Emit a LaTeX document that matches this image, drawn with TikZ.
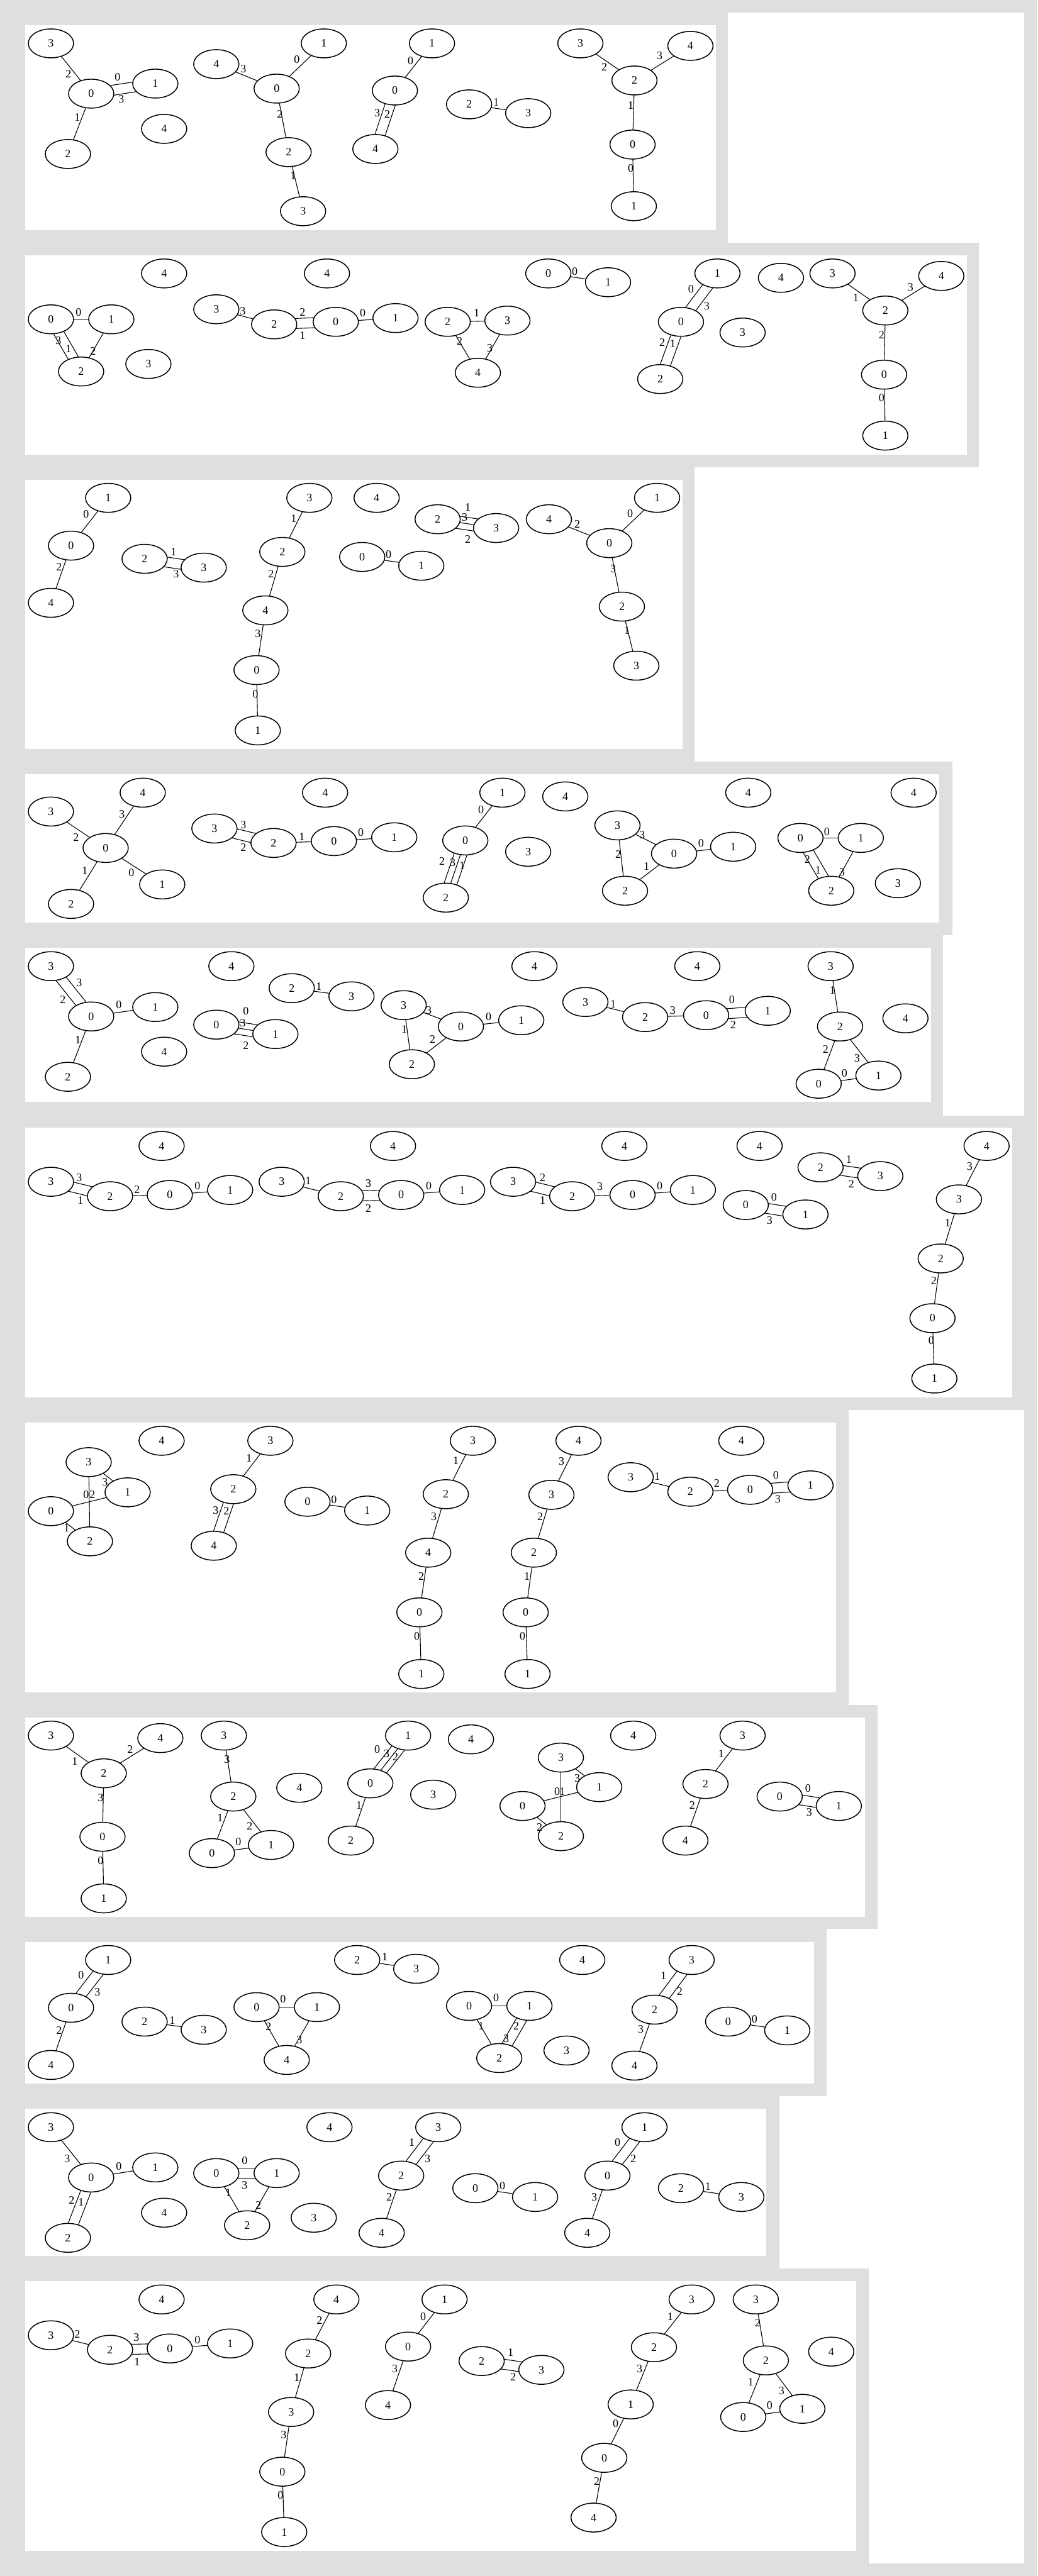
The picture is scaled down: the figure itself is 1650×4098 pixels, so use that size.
\documentclass[tikz,border=0pt]{standalone}
\usepackage{fontspec}
\setmainfont{Liberation Serif}
\usetikzlibrary{shapes.geometric,calc}
\pgfdeclarelayer{bgl}\pgfdeclarelayer{edges}
\pgfsetlayers{bgl,edges,main}
\definecolor{pagegray}{RGB}{223,223,223}
\tikzset{
 gn/.style={ellipse, draw=black, fill=white, line width=1.5pt, minimum width=72pt, minimum height=46pt, inner sep=0pt, font=\fontsize{18}{20}\selectfont},
 ge/.style={draw=black, line width=1.1pt},
 lab/.style={inner sep=0pt, font=\fontsize{18}{20}\selectfont},
 graybox/.style={fill=pagegray},
 whitebox/.style={fill=white},
}
\newcounter{labcount}
\newcommand\gN[4]{\node[gn] (#1) at (#2,#3) {#4};}
\newcommand\gL[3]{\stepcounter{labcount}\node[lab] (lab\arabic{labcount}) at (#1,#2) {#3};}
\newcommand\gE[2]{\begin{pgfonlayer}{edges}\draw[ge] (#1.center) -- (#2.center);\end{pgfonlayer}}
\newcommand\gEE[2]{\begin{pgfonlayer}{edges}\draw[ge] ($(#1.center)!8pt!90:(#2.center)$) -- ($(#2.center)!8pt!-90:(#1.center)$);\draw[ge] ($(#1.center)!8pt!-90:(#2.center)$) -- ($(#2.center)!8pt!90:(#1.center)$);\end{pgfonlayer}}
\newcommand\gEEE[2]{\begin{pgfonlayer}{edges}\draw[ge] ($(#1.center)!10pt!90:(#2.center)$) -- ($(#2.center)!10pt!-90:(#1.center)$);\draw[ge] ($(#1.center)!10pt!-90:(#2.center)$) -- ($(#2.center)!10pt!90:(#1.center)$);\draw[ge] (#1.center) -- (#2.center);\end{pgfonlayer}}
\begin{document}
\begin{tikzpicture}[x=1pt,y=-1pt]
\useasboundingbox (0,0) rectangle (1650,4098);
\begin{pgfonlayer}{bgl}
\fill[graybox] (0,0) rectangle (1650,4098);
\fill[whitebox] (1100,20) rectangle (1629,4078);
\fill[graybox] (0,0) rectangle (1158,386);
\fill[graybox] (0,386) rectangle (1557,743);
\fill[graybox] (0,743) rectangle (1105,1212);
\fill[graybox] (0,1212) rectangle (1515,1488);
\fill[graybox] (0,1488) rectangle (1500,1775);
\fill[graybox] (0,1775) rectangle (1650,2243);
\fill[graybox] (0,2243) rectangle (1350,2712);
\fill[graybox] (0,2712) rectangle (1396,3068);
\fill[graybox] (0,3068) rectangle (1315,3335);
\fill[graybox] (0,3335) rectangle (1240,3609);
\fill[graybox] (0,3609) rectangle (1382,4098);
\fill[whitebox] (40,40) rectangle (1139,366);
\fill[whitebox] (40,406) rectangle (1538,723);
\fill[whitebox] (40,763) rectangle (1086,1192);
\fill[whitebox] (40,1232) rectangle (1494,1468);
\fill[whitebox] (40,1508) rectangle (1481,1753);
\fill[whitebox] (40,1794) rectangle (1610,2223);
\fill[whitebox] (40,2263) rectangle (1330,2692);
\fill[whitebox] (40,2732) rectangle (1376,3049);
\fill[whitebox] (40,3089) rectangle (1295,3315);
\fill[whitebox] (40,3355) rectangle (1219,3589);
\fill[whitebox] (40,3629) rectangle (1362,4058);
\end{pgfonlayer}
% ---------- Row 1
\gN{r1a3}{81}{69}{3}\gN{r1a0}{145}{149}{0}\gN{r1a1}{247}{133}{1}\gN{r1a4}{261}{205}{4}\gN{r1a2}{108}{245}{2}
\gE{r1a3}{r1a0}\gEE{r1a0}{r1a1}\gE{r1a0}{r1a2}
\gL{109}{118}{2}\gL{187}{123}{0}\gL{193}{158}{3}\gL{123}{187}{1}
\gN{r1b4}{344}{102}{4}\gN{r1b1}{515}{69}{1}\gN{r1b0}{440}{141}{0}\gN{r1b2}{459}{242}{2}\gN{r1b3}{482}{336}{3}
\gE{r1b4}{r1b0}\gE{r1b0}{r1b1}\gE{r1b0}{r1b2}\gE{r1b2}{r1b3}
\gL{387}{110}{3}\gL{472}{95}{0}\gL{445}{182}{2}\gL{466}{280}{1}
\gN{r1c1}{687}{69}{1}\gN{r1c0}{628}{144}{0}\gN{r1c4}{597}{237}{4}
\gE{r1c0}{r1c1}\gEE{r1c0}{r1c4}
\gL{653}{97}{0}\gL{600}{180}{3}\gL{616}{182}{2}
\gN{r1d2}{746}{166}{2}\gN{r1d3}{840}{180}{3}
\gE{r1d2}{r1d3}\gL{789}{163}{1}
\gN{r1e3}{923}{69}{3}\gN{r1e4}{1098}{73}{4}\gN{r1e2}{1009}{128}{2}\gN{r1e0}{1006}{230}{0}\gN{r1e1}{1008}{328}{1}
\gE{r1e3}{r1e2}\gE{r1e2}{r1e4}\gE{r1e2}{r1e0}\gE{r1e0}{r1e1}
\gL{961}{107}{2}\gL{1049}{89}{3}\gL{1003}{168}{1}\gL{1003}{268}{0}
% ---------- Row 2
\gN{r2a4}{261}{435}{4}\gN{r2a0}{81}{508}{0}\gN{r2a1}{177}{508}{1}\gN{r2a2}{129}{591}{2}\gN{r2a3}{236}{579}{3}
\gE{r2a0}{r2a1}\gEE{r2a0}{r2a2}\gE{r2a1}{r2a2}
\gL{125}{497}{0}\gL{93}{542}{3}\gL{109}{555}{1}\gL{148}{559}{2}
\gN{r2b4}{520}{435}{4}\gN{r2b3}{344}{492}{3}\gN{r2b2}{436}{516}{2}\gN{r2b0}{534}{512}{0}\gN{r2b1}{629}{506}{1}
\gE{r2b3}{r2b2}\gEE{r2b2}{r2b0}\gE{r2b0}{r2b1}
\gL{386}{495}{3}\gL{481}{497}{2}\gL{481}{534}{1}\gL{577}{498}{0}
\gN{r2c0}{872}{435}{0}\gN{r2c1}{967}{449}{1}\gN{r2c2}{712}{512}{2}\gN{r2c3}{807}{510}{3}\gN{r2c4}{760}{593}{4}
\gE{r2c0}{r2c1}\gE{r2c2}{r2c3}\gE{r2c2}{r2c4}\gE{r2c3}{r2c4}
\gL{914}{432}{0}\gL{758}{498}{1}\gL{731}{543}{2}\gL{779}{554}{3}
\gN{r2d1}{1141}{435}{1}\gN{r2d4}{1242}{442}{4}\gN{r2d0}{1083}{512}{0}\gN{r2d3}{1181}{529}{3}\gN{r2d2}{1050}{603}{2}
\gEE{r2d0}{r2d1}\gEE{r2d0}{r2d2}
\gL{1099}{460}{0}\gL{1124}{487}{3}\gL{1053}{545}{2}\gL{1070}{547}{1}
\gN{r2e3}{1324}{435}{3}\gN{r2e4}{1497}{439}{4}\gN{r2e2}{1408}{494}{2}\gN{r2e0}{1406}{596}{0}\gN{r2e1}{1408}{693}{1}
\gE{r2e3}{r2e2}\gE{r2e2}{r2e4}\gE{r2e2}{r2e0}\gE{r2e0}{r2e1}
\gL{1361}{474}{1}\gL{1448}{457}{3}\gL{1402}{533}{2}\gL{1402}{633}{0}
% ---------- Row 3
\gN{r3a1}{172}{792}{1}\gN{r3a0}{113}{868}{0}\gN{r3a4}{81}{959}{4}
\gE{r3a0}{r3a1}\gE{r3a0}{r3a4}
\gL{137}{818}{0}\gL{94}{902}{2}
\gN{r3b2}{230}{889}{2}\gN{r3b3}{324}{903}{3}
\gEE{r3b2}{r3b3}\gL{276}{878}{1}\gL{280}{913}{3}
\gN{r3c3}{492}{792}{3}\gN{r3c2}{449}{878}{2}\gN{r3c4}{422}{971}{4}\gN{r3c0}{408}{1066}{0}\gN{r3c1}{410}{1162}{1}
\gE{r3c3}{r3c2}\gE{r3c2}{r3c4}\gE{r3c4}{r3c0}\gE{r3c0}{r3c1}
\gL{467}{825}{1}\gL{431}{913}{2}\gL{410}{1008}{3}\gL{406}{1104}{0}
\gN{r3d4}{599}{792}{4}\gN{r3d0}{576}{886}{0}\gN{r3d1}{670}{900}{1}\gN{r3d2}{696}{826}{2}\gN{r3d3}{789}{840}{3}
\gE{r3d0}{r3d1}\gEEE{r3d2}{r3d3}
\gL{618}{882}{0}\gL{744}{807}{1}\gL{739}{823}{3}\gL{744}{858}{2}
\gN{r3e4}{873}{826}{4}\gN{r3e1}{1045}{792}{1}\gN{r3e0}{969}{864}{0}\gN{r3e2}{989}{965}{2}\gN{r3e3}{1012}{1059}{3}
\gE{r3e4}{r3e0}\gE{r3e0}{r3e1}\gE{r3e0}{r3e2}\gE{r3e2}{r3e3}
\gL{918}{834}{2}\gL{1002}{817}{0}\gL{975}{905}{3}\gL{997}{1003}{1}
% ---------- Row 4
\gN{r4a4}{227}{1261}{4}\gN{r4a3}{81}{1291}{3}\gN{r4a0}{168}{1349}{0}\gN{r4a1}{258}{1407}{1}\gN{r4a2}{113}{1438}{2}
\gE{r4a3}{r4a0}\gE{r4a0}{r4a4}\gE{r4a0}{r4a2}\gE{r4a0}{r4a1}
\gL{121}{1332}{2}\gL{194}{1295}{3}\gL{135}{1385}{1}\gL{209}{1388}{0}
\gN{r4b4}{517}{1261}{4}\gN{r4b3}{341}{1318}{3}\gN{r4b2}{435}{1341}{2}\gN{r4b0}{531}{1338}{0}\gN{r4b1}{627}{1332}{1}
\gEE{r4b3}{r4b2}\gE{r4b2}{r4b0}\gE{r4b0}{r4b1}
\gL{387}{1312}{3}\gL{387}{1348}{2}\gL{480}{1331}{1}\gL{574}{1324}{0}
\gN{r4c1}{799}{1261}{1}\gN{r4c4}{899}{1267}{4}\gN{r4c0}{740}{1337}{0}\gN{r4c3}{840}{1355}{3}\gN{r4c2}{709}{1428}{2}
\gE{r4c0}{r4c1}\gEEE{r4c0}{r4c2}
\gL{765}{1288}{0}\gL{703}{1370}{2}\gL{720}{1372}{3}\gL{735}{1377}{1}
\gN{r4d4}{1190}{1261}{4}\gN{r4d3}{982}{1313}{3}\gN{r4d0}{1072}{1358}{0}\gN{r4d1}{1166}{1347}{1}\gN{r4d2}{994}{1417}{2}
\gE{r4d3}{r4d0}\gE{r4d0}{r4d1}\gE{r4d3}{r4d2}\gE{r4d0}{r4d2}
\gL{1021}{1328}{3}\gL{1115}{1341}{0}\gL{983}{1359}{2}\gL{1028}{1378}{1}
\gN{r4e4}{1453}{1261}{4}\gN{r4e0}{1273}{1333}{0}\gN{r4e1}{1369}{1333}{1}\gN{r4e2}{1322}{1417}{2}\gN{r4e3}{1428}{1405}{3}
\gE{r4e0}{r4e1}\gEE{r4e0}{r4e2}\gE{r4e1}{r4e2}
\gL{1315}{1323}{0}\gL{1284}{1367}{2}\gL{1301}{1384}{1}\gL{1339}{1387}{3}
% ---------- Row 5
\gN{r5a3}{81}{1537}{3}\gN{r5a0}{145}{1617}{0}\gN{r5a1}{247}{1602}{1}\gN{r5a4}{261}{1673}{4}\gN{r5a2}{108}{1713}{2}
\gEE{r5a3}{r5a0}\gE{r5a0}{r5a1}\gE{r5a0}{r5a2}
\gL{126}{1563}{3}\gL{100}{1590}{2}\gL{189}{1598}{0}\gL{124}{1654}{1}
\gN{r5b4}{368}{1537}{4}\gN{r5b2}{464}{1572}{2}\gN{r5b3}{559}{1585}{3}\gN{r5b0}{344}{1630}{0}\gN{r5b1}{438}{1645}{1}
\gE{r5b2}{r5b3}\gEEE{r5b0}{r5b1}
\gL{507}{1569}{1}\gL{391}{1608}{0}\gL{386}{1627}{3}\gL{391}{1663}{2}
\gN{r5c4}{850}{1537}{4}\gN{r5c3}{642}{1599}{3}\gN{r5c0}{733}{1633}{0}\gN{r5c1}{829}{1623}{1}\gN{r5c2}{655}{1693}{2}
\gE{r5c3}{r5c0}\gE{r5c0}{r5c1}\gE{r5c3}{r5c2}\gE{r5c0}{r5c2}
\gL{682}{1607}{3}\gL{777}{1617}{0}\gL{643}{1637}{1}\gL{688}{1653}{2}
\gN{r5d4}{1109}{1537}{4}\gN{r5d3}{931}{1594}{3}\gN{r5d2}{1026}{1618}{2}\gN{r5d0}{1123}{1615}{0}\gN{r5d1}{1221}{1608}{1}
\gE{r5d3}{r5d2}\gE{r5d2}{r5d0}\gEE{r5d0}{r5d1}
\gL{975}{1597}{1}\gL{1070}{1607}{3}\gL{1164}{1590}{0}\gL{1166}{1630}{2}
\gN{r5e3}{1321}{1537}{3}\gN{r5e4}{1440}{1620}{4}\gN{r5e2}{1336}{1633}{2}\gN{r5e1}{1397}{1711}{1}\gN{r5e0}{1302}{1724}{0}
\gE{r5e3}{r5e2}\gE{r5e2}{r5e0}\gE{r5e2}{r5e1}\gE{r5e0}{r5e1}
\gL{1324}{1575}{1}\gL{1313}{1669}{2}\gL{1363}{1683}{3}\gL{1343}{1707}{0}
% ---------- Row 6
\gN{r6a4}{257}{1823}{4}\gN{r6a3}{81}{1880}{3}\gN{r6a2}{175}{1903}{2}\gN{r6a0}{270}{1901}{0}\gN{r6a1}{366}{1893}{1}
\gEE{r6a3}{r6a2}\gE{r6a2}{r6a0}\gE{r6a0}{r6a1}
\gL{126}{1874}{3}\gL{128}{1909}{1}\gL{218}{1892}{2}\gL{314}{1887}{0}
\gN{r6b4}{625}{1823}{4}\gN{r6b3}{448}{1880}{3}\gN{r6b2}{542}{1903}{2}\gN{r6b0}{638}{1901}{0}\gN{r6b1}{735}{1893}{1}
\gE{r6b3}{r6b2}\gEE{r6b2}{r6b0}\gE{r6b0}{r6b1}
\gL{490}{1878}{1}\gL{586}{1883}{3}\gL{586}{1922}{2}\gL{682}{1887}{0}
\gN{r6c4}{993}{1823}{4}\gN{r6c3}{816}{1880}{3}\gN{r6c2}{910}{1903}{2}\gN{r6c0}{1006}{1901}{0}\gN{r6c1}{1102}{1893}{1}
\gEE{r6c3}{r6c2}\gE{r6c2}{r6c0}\gE{r6c0}{r6c1}
\gL{863}{1873}{2}\gL{863}{1909}{1}\gL{954}{1888}{3}\gL{1049}{1887}{0}
\gN{r6d4}{1208}{1823}{4}\gN{r6d2}{1305}{1857}{2}\gN{r6d3}{1400}{1871}{3}\gN{r6d0}{1186}{1917}{0}\gN{r6d1}{1281}{1932}{1}
\gEE{r6d2}{r6d3}\gEE{r6d0}{r6d1}
\gL{1350}{1844}{1}\gL{1354}{1883}{2}\gL{1231}{1905}{0}\gL{1224}{1942}{3}
\gN{r6e4}{1569}{1823}{4}\gN{r6e3}{1525}{1908}{3}\gN{r6e2}{1496}{2002}{2}\gN{r6e0}{1483}{2097}{0}\gN{r6e1}{1486}{2193}{1}
\gE{r6e4}{r6e3}\gE{r6e3}{r6e2}\gE{r6e2}{r6e0}\gE{r6e0}{r6e1}
\gL{1542}{1856}{3}\gL{1507}{1945}{1}\gL{1485}{2038}{2}\gL{1481}{2133}{0}
% ---------- Row 7
\gN{r7a4}{257}{2292}{4}\gN{r7a3}{141}{2326}{3}\gN{r7a1}{203}{2374}{1}\gN{r7a0}{81}{2404}{0}\gN{r7a2}{143}{2452}{2}
\gE{r7a3}{r7a1}\gE{r7a3}{r7a2}\gE{r7a0}{r7a1}\gE{r7a0}{r7a2}
\gL{167}{2358}{3}\gL{137}{2378}{0}\gL{147}{2378}{2}\gL{106}{2431}{1}
\gN{r7b3}{430}{2292}{3}\gN{r7b2}{371}{2369}{2}\gN{r7b4}{340}{2459}{4}\gN{r7b0}{489}{2389}{0}\gN{r7b1}{584}{2403}{1}
\gE{r7b3}{r7b2}\gEE{r7b2}{r7b4}\gE{r7b0}{r7b1}
\gL{396}{2320}{1}\gL{343}{2403}{3}\gL{360}{2404}{2}\gL{531}{2386}{0}
\gN{r7c3}{752}{2292}{3}\gN{r7c2}{709}{2377}{2}\gN{r7c4}{681}{2470}{4}\gN{r7c0}{667}{2565}{0}\gN{r7c1}{670}{2663}{1}
\gE{r7c3}{r7c2}\gE{r7c2}{r7c4}\gE{r7c4}{r7c0}\gE{r7c0}{r7c1}
\gL{725}{2324}{1}\gL{690}{2413}{3}\gL{670}{2508}{2}\gL{663}{2603}{0}
\gN{r7d4}{920}{2292}{4}\gN{r7d3}{877}{2378}{3}\gN{r7d2}{849}{2470}{2}\gN{r7d0}{836}{2565}{0}\gN{r7d1}{839}{2663}{1}
\gE{r7d4}{r7d3}\gE{r7d3}{r7d2}\gE{r7d2}{r7d0}\gE{r7d0}{r7d1}
\gL{893}{2325}{3}\gL{859}{2413}{2}\gL{838}{2508}{1}\gL{831}{2603}{0}
\gN{r7e4}{1179}{2292}{4}\gN{r7e3}{1003}{2350}{3}\gN{r7e2}{1098}{2373}{2}\gN{r7e0}{1193}{2370}{0}\gN{r7e1}{1289}{2363}{1}
\gE{r7e3}{r7e2}\gE{r7e2}{r7e0}\gEE{r7e0}{r7e1}
\gL{1045}{2349}{1}\gL{1140}{2360}{2}\gL{1234}{2347}{0}\gL{1237}{2385}{3}
% ---------- Row 8
\gN{r8a3}{81}{2761}{3}\gN{r8a4}{255}{2765}{4}\gN{r8a2}{165}{2821}{2}\gN{r8a0}{163}{2922}{0}\gN{r8a1}{165}{3020}{1}
\gE{r8a3}{r8a2}\gE{r8a2}{r8a4}\gE{r8a2}{r8a0}\gE{r8a0}{r8a1}
\gL{119}{2802}{1}\gL{207}{2783}{2}\gL{160}{2860}{3}\gL{160}{2960}{0}
\gN{r8b3}{356}{2761}{3}\gN{r8b2}{371}{2858}{2}\gN{r8b4}{476}{2844}{4}\gN{r8b0}{337}{2948}{0}\gN{r8b1}{431}{2935}{1}
\gE{r8b3}{r8b2}\gE{r8b2}{r8b0}\gE{r8b2}{r8b1}\gE{r8b0}{r8b1}
\gL{361}{2799}{3}\gL{350}{2892}{1}\gL{397}{2905}{2}\gL{379}{2930}{0}
\gN{r8c1}{649}{2761}{1}\gN{r8c4}{749}{2767}{4}\gN{r8c0}{589}{2837}{0}\gN{r8c3}{689}{2855}{3}\gN{r8c2}{558}{2928}{2}
\gEEE{r8c0}{r8c1}\gE{r8c0}{r8c2}
\gL{600}{2783}{0}\gL{615}{2790}{3}\gL{629}{2795}{2}\gL{571}{2872}{1}
\gN{r8d4}{1007}{2761}{4}\gN{r8d3}{892}{2796}{3}\gN{r8d1}{953}{2843}{1}\gN{r8d0}{831}{2873}{0}\gN{r8d2}{892}{2921}{2}
\gE{r8d3}{r8d1}\gE{r8d3}{r8d2}\gE{r8d0}{r8d1}\gE{r8d0}{r8d2}
\gL{918}{2829}{3}\gL{886}{2850}{0}\gL{894}{2850}{1}\gL{858}{2907}{2}
\gN{r8e3}{1181}{2761}{3}\gN{r8e2}{1122}{2838}{2}\gN{r8e4}{1090}{2928}{4}\gN{r8e0}{1240}{2858}{0}\gN{r8e1}{1334}{2873}{1}
\gE{r8e3}{r8e2}\gE{r8e2}{r8e4}\gEE{r8e0}{r8e1}
\gL{1147}{2790}{1}\gL{1101}{2872}{2}\gL{1285}{2845}{0}\gL{1287}{2883}{3}
% ---------- Row 9
\gN{r9a1}{172}{3118}{1}\gN{r9a0}{113}{3194}{0}\gN{r9a4}{81}{3285}{4}
\gEE{r9a0}{r9a1}\gE{r9a0}{r9a4}
\gL{129}{3142}{0}\gL{155}{3169}{3}\gL{94}{3230}{2}
\gN{r9b2}{230}{3216}{2}\gN{r9b3}{324}{3229}{3}
\gE{r9b2}{r9b3}\gL{274}{3214}{1}
\gN{r9c0}{408}{3193}{0}\gN{r9c1}{504}{3193}{1}\gN{r9c4}{456}{3277}{4}
\gE{r9c0}{r9c1}\gE{r9c0}{r9c4}\gE{r9c1}{r9c4}
\gL{450}{3180}{0}\gL{427}{3224}{2}\gL{476}{3245}{3}
\gN{r9d2}{568}{3118}{2}\gN{r9d3}{662}{3132}{3}
\gE{r9d2}{r9d3}\gL{612}{3113}{1}
\gN{r9e4}{926}{3118}{4}\gN{r9e0}{746}{3191}{0}\gN{r9e1}{842}{3191}{1}\gN{r9e2}{794}{3274}{2}\gN{r9e3}{901}{3262}{3}
\gE{r9e0}{r9e1}\gE{r9e0}{r9e2}\gEE{r9e1}{r9e2}
\gL{789}{3178}{0}\gL{765}{3223}{1}\gL{821}{3223}{2}\gL{805}{3243}{3}
\gN{r9f3}{1100}{3118}{3}\gN{r9f2}{1041}{3197}{2}\gN{r9f4}{1009}{3286}{4}\gN{r9f0}{1158}{3216}{0}\gN{r9f1}{1252}{3230}{1}
\gEE{r9f3}{r9f2}\gE{r9f2}{r9f4}\gE{r9f0}{r9f1}
\gL{1055}{3143}{1}\gL{1081}{3168}{2}\gL{1019}{3228}{3}\gL{1200}{3212}{0}
% ---------- Row 10
\gN{r10a3}{81}{3384}{3}\gN{r10a0}{145}{3464}{0}\gN{r10a1}{247}{3448}{1}\gN{r10a4}{261}{3520}{4}\gN{r10a2}{108}{3560}{2}
\gE{r10a3}{r10a0}\gE{r10a0}{r10a1}\gEE{r10a0}{r10a2}
\gL{107}{3434}{3}\gL{189}{3446}{0}\gL{114}{3500}{2}\gL{129}{3503}{1}
\gN{r10b4}{524}{3384}{4}\gN{r10b0}{344}{3457}{0}\gN{r10b1}{440}{3457}{1}\gN{r10b2}{393}{3540}{2}\gN{r10b3}{499}{3528}{3}
\gEE{r10b0}{r10b1}\gE{r10b0}{r10b2}\gE{r10b1}{r10b2}
\gL{389}{3437}{0}\gL{389}{3476}{3}\gL{363}{3488}{1}\gL{411}{3508}{2}
\gN{r10c3}{697}{3384}{3}\gN{r10c2}{638}{3461}{2}\gN{r10c4}{607}{3552}{4}\gN{r10c0}{756}{3481}{0}\gN{r10c1}{851}{3495}{1}
\gEE{r10c3}{r10c2}\gE{r10c2}{r10c4}\gE{r10c0}{r10c1}
\gL{655}{3408}{1}\gL{680}{3434}{3}\gL{619}{3495}{2}\gL{799}{3477}{0}
\gN{r10d1}{1025}{3384}{1}\gN{r10d0}{966}{3461}{0}\gN{r10d4}{934}{3552}{4}\gN{r10d2}{1083}{3481}{2}\gN{r10d3}{1179}{3495}{3}
\gEE{r10d0}{r10d1}\gE{r10d0}{r10d4}\gE{r10d2}{r10d3}
\gL{982}{3408}{0}\gL{1007}{3434}{2}\gL{945}{3495}{3}\gL{1126}{3478}{1}
% ---------- Row 11
\gN{r11a4}{257}{3658}{4}\gN{r11a3}{81}{3715}{3}\gN{r11a2}{175}{3738}{2}\gN{r11a0}{270}{3736}{0}\gN{r11a1}{366}{3728}{1}
\gE{r11a3}{r11a2}\gEE{r11a2}{r11a0}\gE{r11a0}{r11a1}
\gL{123}{3713}{2}\gL{217}{3718}{3}\gL{218}{3757}{1}\gL{314}{3722}{0}
\gN{r11b4}{535}{3658}{4}\gN{r11b2}{490}{3744}{2}\gN{r11b3}{463}{3837}{3}\gN{r11b0}{449}{3932}{0}\gN{r11b1}{452}{4028}{1}
\gE{r11b4}{r11b2}\gE{r11b2}{r11b3}\gE{r11b3}{r11b0}\gE{r11b0}{r11b1}
\gL{508}{3691}{2}\gL{472}{3782}{1}\gL{451}{3873}{3}\gL{446}{3969}{0}
\gN{r11c1}{707}{3658}{1}\gN{r11c0}{649}{3733}{0}\gN{r11c4}{617}{3826}{4}
\gE{r11c0}{r11c1}\gE{r11c0}{r11c4}
\gL{673}{3685}{0}\gL{628}{3768}{3}
\gN{r11d2}{766}{3756}{2}\gN{r11d3}{861}{3770}{3}
\gEE{r11d2}{r11d3}\gL{812}{3742}{1}\gL{816}{3781}{2}
\gN{r11e3}{1100}{3658}{3}\gN{r11e2}{1040}{3734}{2}\gN{r11e1}{1003}{3825}{1}\gN{r11e0}{961}{3910}{0}\gN{r11e4}{944}{4005}{4}
\gE{r11e3}{r11e2}\gE{r11e2}{r11e1}\gE{r11e1}{r11e0}\gE{r11e0}{r11e4}
\gL{1066}{3685}{1}\gL{1017}{3768}{3}\gL{979}{3855}{0}\gL{949}{3947}{2}
\gN{r11f3}{1202}{3658}{3}\gN{r11f2}{1218}{3755}{2}\gN{r11f4}{1322}{3741}{4}\gN{r11f0}{1182}{3845}{0}\gN{r11f1}{1276}{3832}{1}
\gE{r11f3}{r11f2}\gE{r11f2}{r11f0}\gE{r11f2}{r11f1}\gE{r11f0}{r11f1}
\gL{1205}{3695}{2}\gL{1194}{3789}{1}\gL{1243}{3803}{3}\gL{1224}{3826}{0}
\end{tikzpicture}
\end{document}
